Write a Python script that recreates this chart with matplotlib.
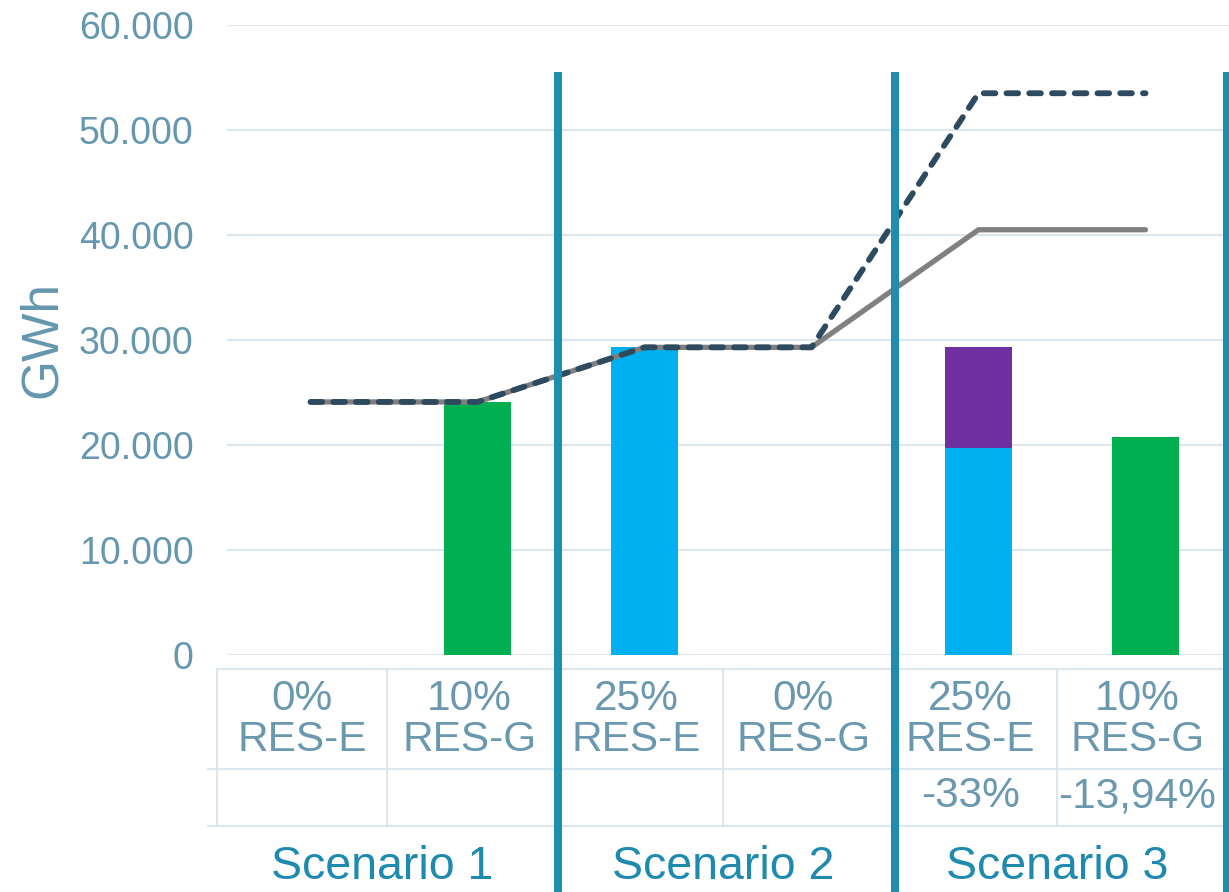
import matplotlib
matplotlib.use("Agg")
import matplotlib.pyplot as plt
from matplotlib.ticker import FuncFormatter

plt.rcParams['font.family'] = ['Liberation Sans', 'DejaVu Sans']

# data
cat_labels = ["0%\nRES-E", "10%\nRES-G", "25%\nRES-E", "0%\nRES-G", "25%\nRES-E", "10%\nRES-G"]
change_labels = ["", "", "", "", "-33%", "-13,94%"]
scenarios = ["Scenario 1", "Scenario 2", "Scenario 3"]
res_e = [0, 0, 29300, 0, 19700, 0]
res_e_extra = [0, 0, 0, 0, 9600, 0]
res_g = [0, 24100, 0, 0, 0, 20800]
line_dashed = [24100, 24100, 29300, 29300, 53500, 53500]
line_solid = [24100, 24100, 29300, 29300, 40500, 40500]
yticks = [0, 10000, 20000, 30000, 40000, 50000, 60000]

TICK_C = "#6597B0"
SEP_C = "#1F8DB0"
GRID_C = "#DCE6EE"

W, H = 1229, 892
fig = plt.figure(figsize=(W / 100, H / 100), dpi=100)
ax = fig.add_axes([227 / W, 237 / H, 1002 / W, 630 / H])

x = list(range(len(cat_labels)))
bw = 0.4
ax.bar(x, res_e, width=bw, color="#00B0F0", zorder=2)
ax.bar(x, res_e_extra, width=bw, bottom=res_e, color="#7030A0", zorder=2)
ax.bar(x, res_g, width=bw, color="#00B050", zorder=2)

ax.plot(x, line_solid, color="#808080", lw=3.8, solid_capstyle="round",
        solid_joinstyle="round", zorder=3)
ax.plot(x, line_dashed, color="#2E4A5E", lw=4.2, dashes=(2.0, 1.9),
        dash_capstyle="round", zorder=4)

ax.set_xlim(-0.5, 5.5)
ax.set_ylim(0, 60000)
ax.set_yticks(yticks)
ax.yaxis.set_major_formatter(FuncFormatter(lambda v, p: f"{v:,.0f}".replace(",", ".")))
ax.tick_params(axis="y", length=0, pad=24, labelsize=27, labelcolor=TICK_C)
ax.set_xticks([])
ax.grid(axis="y", color=GRID_C, lw=1.5, zorder=0)
ax.set_axisbelow(True)
for s in ax.spines.values():
    s.set_visible(False)

fig.text(42 / W, 1 - 340 / H, "GWh", rotation=90, ha="center", va="center",
         fontsize=37, color=TICK_C)

# table under the plot
tr = ax.get_xaxis_transform()
tab_kw = dict(color=GRID_C, lw=1.5, transform=tr, clip_on=False)
ax.plot([-0.56, 5.6], [-0.022, -0.022], **tab_kw)
ax.plot([-0.614, 5.6], [-0.181, -0.181], **tab_kw)
ax.plot([-0.614, 5.6], [-0.271, -0.271], **tab_kw)
for xv in [-0.56, 0.46, 2.47, 4.47]:
    ax.plot([xv, xv], [-0.022, -0.271], **tab_kw)

for i, (lab, ch) in enumerate(zip(cat_labels, change_labels)):
    ax.text(i - 0.05, -0.102, lab, transform=tr, ha="center", va="center",
            fontsize=30.5, color="#6A98AF", linespacing=1.02)
    if ch:
        ax.text(i - 0.05, -0.224, ch, transform=tr, ha="center", va="center",
                fontsize=30.5, color="#6A98AF")

for xs, name in zip([0.43, 2.47, 4.47], scenarios):
    ax.text(xs, -0.3365, name, transform=tr, ha="center", va="center",
            fontsize=33.5, color="#1F8AB0")

for xv in [1.48, 3.5, 5.49]:
    ax.plot([xv, xv], [0.925, -0.38], color=SEP_C, lw=5.8, transform=tr,
            clip_on=False, zorder=5, solid_capstyle="butt")

fig.savefig("out.png", dpi=100)
